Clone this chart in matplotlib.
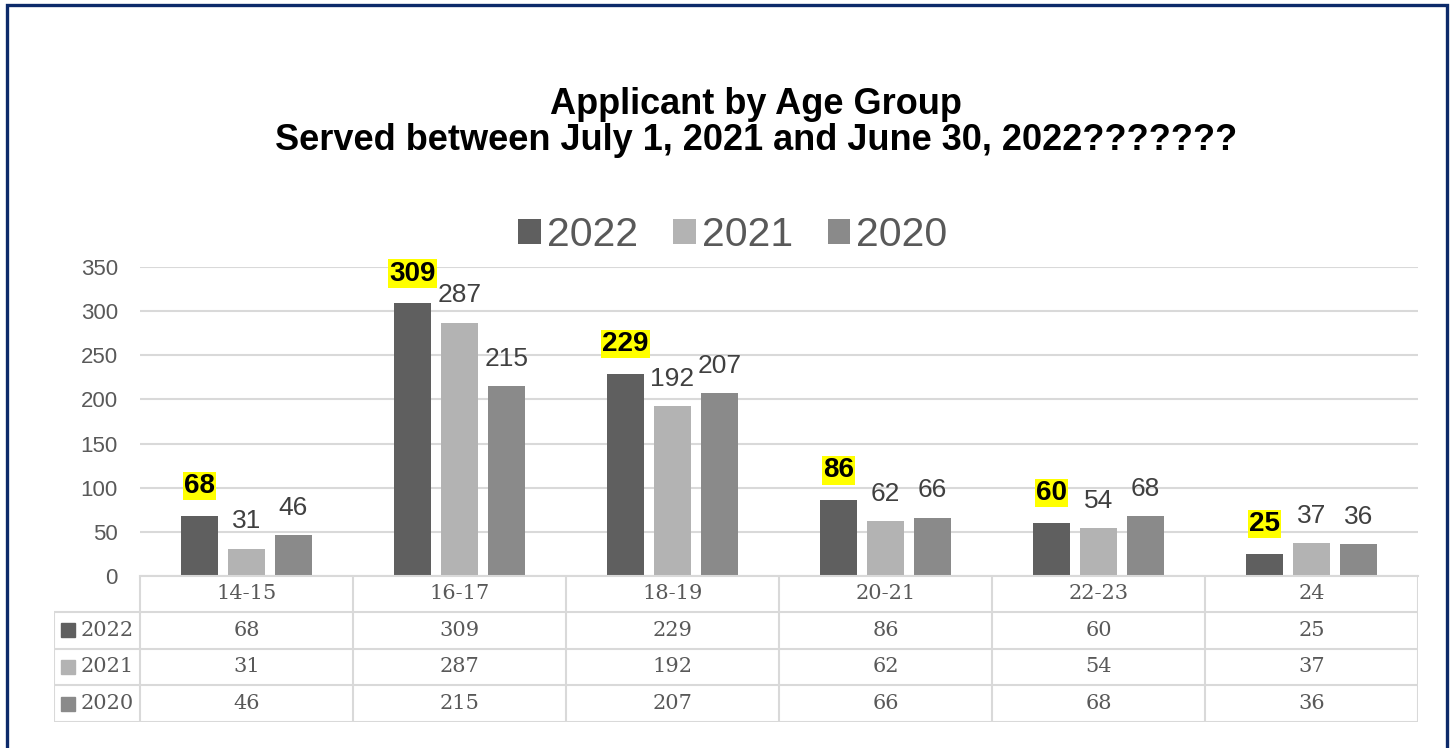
import matplotlib
matplotlib.use("Agg")
import matplotlib.pyplot as plt
from matplotlib.patches import Rectangle

# data
age_groups = ["14-15", "16-17", "18-19", "20-21", "22-23", "24"]
years = ["2022", "2021", "2020"]
vals_2022 = [68, 309, 229, 86, 60, 25]
vals_2021 = [31, 287, 192, 62, 54, 37]
vals_2020 = [46, 215, 207, 66, 68, 36]
series = [vals_2022, vals_2021, vals_2020]
colors = ["#5f5f5f", "#b3b3b3", "#8a8a8a"]
title_lines = ["Applicant by Age Group", "Served between July 1, 2021 and June 30, 2022???????"]

W, H = 1453, 748
grid_col = "#d9d9d9"
txt_col = "#595959"
sans = ["Liberation Sans", "DejaVu Sans"]
serif = ["DejaVu Serif"]

plt.rcParams["font.family"] = sans

fig = plt.figure(figsize=(W / 100, H / 100), dpi=100)

# outer navy frame
fig.add_artist(Rectangle((7 / W, -0.05), (1447 - 7) / W, 1.05 - 5 / H, transform=fig.transFigure,
                         fill=False, edgecolor="#0c2a6a", linewidth=2.4))

# main chart axes
x0, x1 = 140, 1418
ytop, ybot = 267, 576
ax = fig.add_axes([x0 / W, (H - ybot) / H, (x1 - x0) / W, (ybot - ytop) / H])
ax.set_xlim(-0.5, len(age_groups) - 0.5)
ax.set_ylim(0, 350)
ax.set_yticks(range(0, 351, 50))
ax.tick_params(axis="y", length=0, pad=16, labelsize=16, labelcolor=txt_col)
ax.tick_params(axis="x", length=0, labelbottom=False)
ax.grid(axis="y", color=grid_col, linewidth=1.5)
ax.set_axisbelow(True)
for s in ["top", "right", "left"]:
    ax.spines[s].set_visible(False)
ax.spines["bottom"].set_color(grid_col)
ax.spines["bottom"].set_linewidth(1.5)

offsets = [-0.22, 0.0, 0.22]
width = 0.174
bar_sets = []
for i, (vals, col, yr) in enumerate(zip(series, colors, years)):
    xs = [k + offsets[i] for k in range(len(age_groups))]
    bars = ax.bar(xs, vals, width=width, color=col, label=yr, zorder=2)
    bar_sets.append(bars)

ax.bar_label(bar_sets[0], padding=12, fontsize=20, fontweight="bold", color="black",
             bbox=dict(boxstyle="square,pad=0.04", facecolor="#ffff00", edgecolor="none"))
for bars in bar_sets[1:]:
    ax.bar_label(bars, padding=11, fontsize=19, color="#404040")

# title (two lines) and legend
for line, yc in zip(title_lines, [104, 141]):
    fig.text(756 / W, 1 - yc / H, line, ha="center", va="center", fontsize=26, fontweight="bold")
leg = fig.legend(loc="center", bbox_to_anchor=(733 / W, 1 - 235 / H), ncol=3, frameon=False,
                 fontsize=29.5, handlelength=0.55, handleheight=0.55, handletextpad=0.15,
                 columnspacing=0.85)
for t in leg.get_texts():
    t.set_color(txt_col)

# data table below the chart
cat_px = (x1 - x0) / len(age_groups)
lab_w = 86 / cat_px
tx0, ty0, ty1 = 54, 575, 722
tab = fig.add_axes([tx0 / W, (H - ty1) / H, (x1 - tx0) / W, (ty1 - ty0) / H])
tab.set_xlim(-0.5 - lab_w, len(age_groups) - 0.5)
tab.set_ylim(4, 0)
tab.axis("off")
lk = dict(color=grid_col, linewidth=1.5, solid_capstyle="butt")
for r in range(1, 5):
    tab.plot([-0.5 - lab_w, len(age_groups) - 0.5], [r, r], **lk)
tab.plot([-0.5 - lab_w, -0.5 - lab_w], [1, 4], **lk)
for k in range(len(age_groups) + 1):
    tab.plot([k - 0.5, k - 0.5], [0, 4], **lk)

for k, g in enumerate(age_groups):
    tab.text(k, 0.5, g, ha="center", va="center", fontsize=15, color=txt_col, family=serif)
for r, (vals, col, yr) in enumerate(zip(series, colors, years), start=1):
    tab.plot([-0.5 - lab_w + 0.066], [r + 0.5], marker="s", markersize=9.5, color=col, linestyle="none")
    tab.text(-0.5 - lab_w + 0.125, r + 0.5, yr, ha="left", va="center", fontsize=15,
             color=txt_col, family=serif)
    for k, v in enumerate(vals):
        tab.text(k, r + 0.5, str(v), ha="center", va="center", fontsize=15, color=txt_col, family=serif)

fig.savefig("out.png", dpi=100)
